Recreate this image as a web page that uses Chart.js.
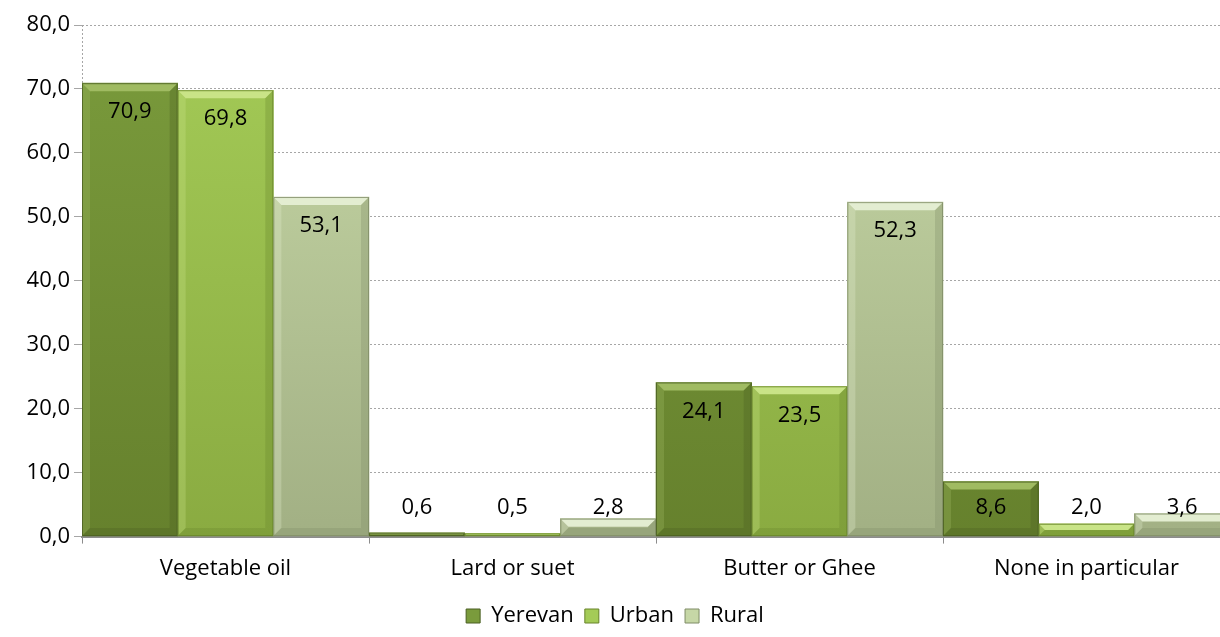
<!DOCTYPE html>
<html>
<head>
<meta charset="utf-8">
<script src="https://cdn.jsdelivr.net/npm/chart.js@4.4.0/dist/chart.umd.min.js"></script>
<style>
  html, body { margin: 0; padding: 0; background: #fff; overflow: hidden; }
  #wrap { width: 1230px; height: 637px; }
</style>
</head>
<body>
<div id="wrap"><canvas id="chart"></canvas></div>
<script>
// Categories and series
const categories = ["Vegetable oil", "Lard or suet", "Butter or Ghee", "None in particular"];
const yerevan = [70.9, 0.6, 24.1, 8.6];
const urban = [69.8, 0.5, 23.5, 2.0];
const rural = [53.1, 2.8, 52.3, 3.6];
const yTicks = [0, 10, 20, 30, 40, 50, 60, 70, 80];

const FONT = "'Open Sans', 'Noto Sans', sans-serif";
const FS = 22;

// colour sets: gradient top, gradient bottom, bevel light, edge dark
const palette = {
  Yerevan: { top: "#7a9b3c", bottom: "#66812d", light: "#a0bb62", dark: "#4a5e22" },
  Urban:   { top: "#a4cb57", bottom: "#8aab41", light: "#c9e487", dark: "#68842b" },
  Rural:   { top: "#c6d7a6", bottom: "#a2b084", light: "#e3edd1", dark: "#7f8c66" },
};

function fillFor(name) {
  return (ctx) => {
    const area = ctx.chart.chartArea;
    const p = palette[name];
    if (!area) return p.top;
    const g = ctx.chart.ctx.createLinearGradient(0, area.top, 0, area.bottom);
    g.addColorStop(0, p.top);
    g.addColorStop(1, p.bottom);
    return g;
  };
}

const fmt = (v) => v.toFixed(1).replace(".", ",");

// Bevel + value labels drawn on top of the bars
const bevelPlugin = {
  id: "bevel",
  beforeDatasetsDraw(chart) {
    // dotted left axis line
    const c = chart.ctx, a = chart.chartArea;
    c.save();
    c.strokeStyle = "#a6a6a6";
    c.lineWidth = 1;
    c.setLineDash([2, 2]);
    c.beginPath();
    c.moveTo(a.left + 0.5, a.top);
    c.lineTo(a.left + 0.5, a.bottom);
    c.stroke();
    c.restore();
  },
  afterDatasetsDraw(chart) {
    const c = chart.ctx;
    chart.data.datasets.forEach((ds, i) => {
      const p = palette[ds.label];
      chart.getDatasetMeta(i).data.forEach((bar) => {
        const l = bar.x - bar.width / 2, r = bar.x + bar.width / 2;
        const t = bar.y, b = bar.base;
        const h = b - t;
        const bv = Math.min(8, h / 2);
        c.save();
        // top bevel
        c.fillStyle = p.light;
        c.beginPath();
        c.moveTo(l, t); c.lineTo(r, t); c.lineTo(r - bv, t + bv); c.lineTo(l + bv, t + bv);
        c.closePath(); c.fill();
        // left bevel
        c.globalAlpha = 0.3;
        c.beginPath();
        c.moveTo(l, t); c.lineTo(l + bv, t + bv); c.lineTo(l + bv, b - bv); c.lineTo(l, b);
        c.closePath(); c.fill();
        // right + bottom bevel darker
        c.fillStyle = p.dark;
        c.globalAlpha = 0.3;
        c.beginPath();
        c.moveTo(r, t); c.lineTo(r - bv, t + bv); c.lineTo(r - bv, b - bv); c.lineTo(r, b);
        c.closePath(); c.fill();
        c.beginPath();
        c.moveTo(l, b); c.lineTo(l + bv, b - bv); c.lineTo(r - bv, b - bv); c.lineTo(r, b);
        c.closePath(); c.fill();
        // outline
        c.globalAlpha = 0.8;
        c.strokeStyle = p.dark;
        c.lineWidth = 1;
        c.strokeRect(l + 0.5, t + 0.5, bar.width - 1, h - 1);
        c.restore();
      });
    });
    // value labels
    c.save();
    c.font = FS + "px " + FONT;
    c.fillStyle = "#000";
    c.textAlign = "center";
    c.textBaseline = "middle";
    chart.data.datasets.forEach((ds, i) => {
      chart.getDatasetMeta(i).data.forEach((bar, j) => {
        const y = Math.min(bar.y + 29, bar.base - 28);
        c.fillText(fmt(ds.data[j]), bar.x, y);
      });
    });
    c.restore();
  },
};

const chart = new Chart(document.getElementById("chart"), {
  type: "bar",
  data: {
    labels: categories,
    datasets: [
      { label: "Yerevan", data: yerevan, backgroundColor: fillFor("Yerevan") },
      { label: "Urban", data: urban, backgroundColor: fillFor("Urban") },
      { label: "Rural", data: rural, backgroundColor: fillFor("Rural") },
    ],
  },
  options: {
    responsive: true,
    maintainAspectRatio: false,
    animation: false,
    layout: { padding: { top: 25, right: 0, left: 0, bottom: 0 } },
    datasets: { bar: { categoryPercentage: 1, barPercentage: 1, borderWidth: 0 } },
    scales: {
      x: {
        grid: { display: true, drawOnChartArea: false, offset: true, color: "#8c8c8c", tickLength: 7 },
        border: { color: "#8c8c8c", width: 2 },
        ticks: { color: "#000", font: { family: FONT, size: FS }, padding: 12 },
      },
      y: {
        min: 0,
        max: 80,
        afterBuildTicks: (s) => { s.ticks = yTicks.map((v) => ({ value: v })); },
        afterFit: (s) => { s.width = 82; },
        grid: { color: "#a6a6a6", tickLength: 8, lineWidth: 1 },
        border: { display: false, dash: [2, 2] },
        ticks: {
          color: "#000",
          font: { family: FONT, size: FS },
          padding: 4,
          callback: (v) => fmt(v),
        },
      },
    },
    plugins: {
      legend: {
        position: "bottom",
        labels: {
          color: "#000",
          font: { family: FONT, size: FS },
          boxWidth: 14,
          boxHeight: 14,
          padding: 11,
          generateLabels: (ch) => ch.data.datasets.map((ds, i) => ({
            text: ds.label,
            fillStyle: palette[ds.label].top,
            strokeStyle: palette[ds.label].dark,
            lineWidth: 1,
            datasetIndex: i,
          })),
        },
      },
      tooltip: { enabled: false },
    },
  },
  plugins: [bevelPlugin],
});
</script>
</body>
</html>
